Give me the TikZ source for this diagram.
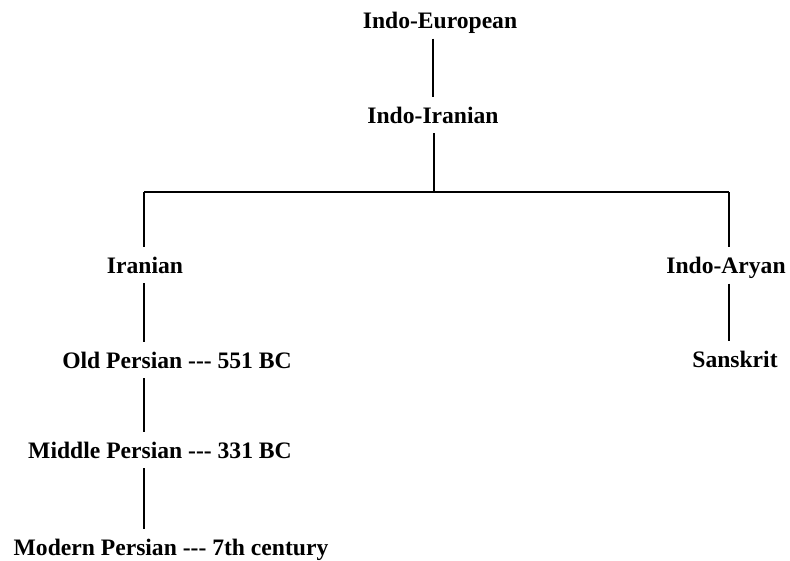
\documentclass[tikz,border=0pt]{standalone}
\usepackage{fontspec}
\setmainfont{Liberation Serif}
\usepackage{tikz}

\begin{document}
\begin{tikzpicture}[x=1pt, y=-1pt,
    lang/.style={font=\fontsize{23.6}{26}\selectfont\bfseries, anchor=base, inner sep=5pt, text height=21pt, text depth=5pt},
    branch/.style={line width=1.2pt}]
        \useasboundingbox (0,0) rectangle (790,560);

        % top of the tree
        \node[lang] (ie) at (440, 28.5) {Indo-European};
        \node[lang] (ii) at (433, 123) {Indo-Iranian};
        \draw[branch] (ii.north |- ie.south) -- (ii.north);

        % split into the two branches
        \coordinate (jm) at (434, 192);
        \coordinate (jl) at (144, 192);
        \coordinate (jr) at (729, 192);
        \node[lang] (iran) at (145, 273) {Iranian};
        \node[lang] (arya) at (726, 273.5) {Indo-Aryan};
        \draw[branch] (ii.south -| jm) -- (jm);
        \draw[branch] (jl) -- (jr);
        \draw[branch] (jl) -- (jl |- iran.north);
        \draw[branch] (jr) -- (jr |- arya.north);

        % Iranian line
        \node[lang] (old) at (177, 368) {Old Persian -{}-{}- 551 BC};
        \node[lang] (mid) at (160, 458) {Middle Persian -{}-{}- 331 BC};
        \node[lang] (mod) at (171, 555.5) {Modern Persian -{}-{}- 7th century};
        \draw[branch] (jl |- iran.south) -- (jl |- old.north);
        \draw[branch] (jl |- old.south) -- (jl |- mid.north);
        \draw[branch] (jl |- mid.south) -- (jl |- mod.north);

        % Indo-Aryan line
        \node[lang] (skt) at (735, 367) {Sanskrit};
        \draw[branch] (jr |- arya.south) -- (jr |- skt.north);
    \end{tikzpicture}
\end{document}
